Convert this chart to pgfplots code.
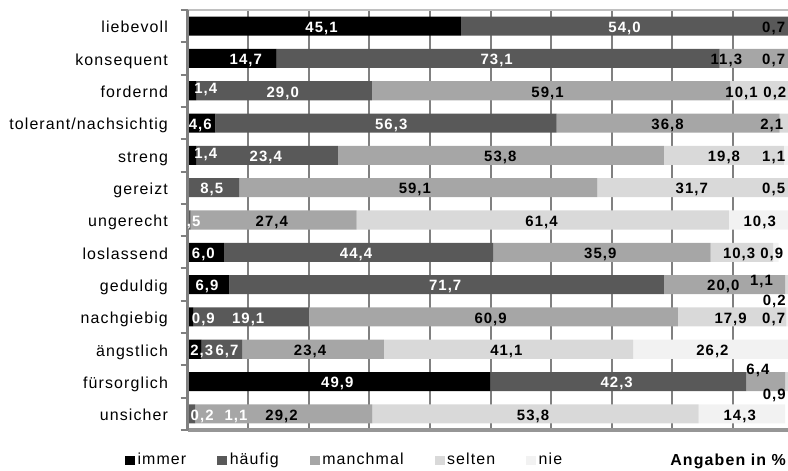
\documentclass[border=0pt]{standalone}
\usepackage{fontspec}
\setmainfont{Liberation Sans}[LetterSpace=7]
\usepackage{pgfplots}
\usepackage{pgfplotstable}
\pgfplotsset{compat=1.18}
\definecolor{cimmer}{RGB}{0,0,0}
\definecolor{chaeufig}{RGB}{89,89,89}
\definecolor{cmanchmal}{RGB}{166,166,166}
\definecolor{cselten}{RGB}{217,217,217}
\definecolor{cnie}{RGB}{242,242,242}
\definecolor{gridgray}{RGB}{128,128,128}
\definecolor{axisgray}{RGB}{128,128,128}
\definecolor{topgray}{RGB}{192,192,192}
\definecolor{botgray}{RGB}{150,150,150}

\pgfplotstableread{
y immer haeufig manchmal selten nie
12 45.1 54.0 0.7 0 0
11 14.7 73.1 11.3 0.7 0
10 1.4 29.0 59.1 10.1 0.2
9 4.6 56.3 36.8 2.1 0
8 1.4 23.4 53.8 19.8 1.1
7 0 8.5 59.1 31.7 0.5
6 0 0.5 27.4 61.4 10.3
5 6.0 44.4 35.9 10.3 0.9
4 6.9 71.7 20.0 1.1 0.2
3 0.9 19.1 60.9 17.9 0.7
2 2.3 6.7 23.4 41.1 26.2
1 49.9 42.3 6.4 0.9 0
0 0.2 1.1 29.2 53.8 14.3
}\datatable

\tikzset{lbl/.style={font=\fontsize{15}{17}\selectfont\bfseries, inner sep=0pt, anchor=base, yshift=-6.3bp}}
\newcommand{\lw}[3]{\node[lbl, text=white] at (axis cs:#1,#2) {#3};}
\newcommand{\lb}[3]{\node[lbl, text=black] at (axis cs:#1,#2) {#3};}
\pgfplotsset{frame/.style={at={(0bp,0bp)}, anchor=south west,
  scale only axis, width=600bp, height=420bp,
  xmin=0, xmax=99, ymin=-0.5, ymax=12.5, clip=false}}

\begin{document}
\begin{tikzpicture}
\useasboundingbox (-187.6bp,-41bp) rectangle (600.4bp,430bp);
\begin{axis}[
  frame,
  xbar stacked, bar width=0.59,
  axis line style={draw=none},
  xtick={10,20,...,90}, xticklabels={},
  xmajorgrids,
  major x grid style={line width=2bp, draw=gridgray},
  xtick style={draw=none},
  ytick={0,...,12},
  yticklabels={unsicher, fürsorglich, ängstlich, nachgiebig, geduldig, loslassend, ungerecht, gereizt, streng, tolerant/nachsichtig, fordernd, konsequent, liebevoll},
  minor ytick={-0.5,0.5,...,12.5},
  major tick length=0pt,
  minor tick length=7bp,
  every minor tick/.append style={draw=axisgray, line width=2bp},
  tick align=outside,
  ytick pos=left,
  yticklabel style={font=\fontsize{16}{18}\selectfont, anchor=base east, inner sep=0pt, xshift=-19.5bp, yshift=-6.8bp},
  legend columns=5,
  legend style={
    at={(axis description cs:-0.1043,-0.072)}, anchor=west, draw=none, fill=none,
    inner sep=0pt, outer sep=0pt,
    font=\fontsize{16}{18}\selectfont,
    nodes={inner sep=0pt, text height=11.5bp, text depth=3.5bp},
    /tikz/every odd column/.append style={column sep=2.5bp},
    /tikz/every even column/.append style={column sep=31bp},
  },
  legend image code/.code={\fill[#1,draw=none] (0bp,-4.5bp) rectangle (10bp,4.5bp);},
]
\addplot[fill=cimmer, draw=none] table[x=immer, y=y] {\datatable};
\addplot[fill=chaeufig, draw=none] table[x=haeufig, y=y] {\datatable};
\addplot[fill=cmanchmal, draw=none] table[x=manchmal, y=y] {\datatable};
\addplot[fill=cselten, draw=none] table[x=selten, y=y] {\datatable};
\addplot[fill=cnie, draw=none] table[x=nie, y=y] {\datatable};
\legend{immer, häufig, manchmal, selten, nie}
\end{axis}
\begin{axis}[frame, hide axis]
\draw[line width=2.5bp, draw=topgray] (rel axis cs:0,1) -- (rel axis cs:1.01,1);
\draw[line width=3bp, draw=botgray] (rel axis cs:0,0) -- (rel axis cs:1.01,0);
\draw[line width=2.5bp, draw=axisgray] (rel axis cs:0,1) -- (rel axis cs:0,0) -- ++(0,-2bp);

\lw{22.1}{12}{45,1} \lw{72.1}{12}{54,0} \lb{96.7}{12}{0,7}
\lw{9.6}{11}{14,7} \lw{51.0}{11}{73,1} \lb{88.9}{11}{11,3} \lb{96.7}{11}{0,7}
\lw{3.0}{10.1}{1,4} \lw{15.7}{10}{29,0} \lb{59.4}{10}{59,1} \lb{91.4}{10}{10,1} \lb{96.9}{10}{0,2}
\lw{2.1}{9}{4,6} \lw{33.6}{9}{56,3} \lb{79.2}{9}{36,8} \lb{96.4}{9}{2,1}
\lw{3.0}{8.1}{1,4} \lw{12.9}{8}{23,4} \lb{51.6}{8}{53,8} \lb{88.5}{8}{19,8} \lb{96.7}{8}{1,1}
\lw{4.0}{7}{8,5} \lb{37.5}{7}{59,1} \lb{83.2}{7}{31,7} \lb{96.7}{7}{0,5}
\lw{1.0}{6}{,5} \lb{13.9}{6}{27,4} \lb{58.4}{6}{61,4} \lb{94.4}{6}{10,3}
\lw{2.6}{5}{6,0} \lw{27.8}{5}{44,4} \lb{68.1}{5}{35,9} \lb{91.0}{5}{10,3} \lb{96.4}{5}{0,9}
\lw{3.2}{4}{6,9} \lw{42.5}{4}{71,7} \lb{88.4}{4}{20,0} \lb{94.7}{4.16}{1,1} \lb{96.8}{3.55}{0,2}
\lw{2.6}{3}{0,9} \lw{10.0}{3}{19,1} \lb{50.0}{3}{60,9} \lb{89.6}{3}{17,9} \lb{96.7}{3}{0,7}
\lw{2.35}{2}{2,3} \lw{6.5}{2}{6,7} \lb{20.2}{2}{23,4} \lb{52.6}{2}{41,1} \lb{86.6}{2}{26,2}
\lw{24.7}{1}{49,9} \lw{70.8}{1}{42,3} \lb{94.1}{1.40}{6,4} \lb{96.8}{0.63}{0,9}
\lw{2.4}{0}{0,2} \lw{8.0}{0}{1,1} \lb{15.5}{0}{29,2} \lb{57.0}{0}{53,8} \lb{91.1}{0}{14,3}
\end{axis}
\node[anchor=base east, inner sep=0pt, font=\fontsize{16}{18}\selectfont\bfseries] at (598.4bp,-35bp) {Angaben in \%};
\end{tikzpicture}
\end{document}
